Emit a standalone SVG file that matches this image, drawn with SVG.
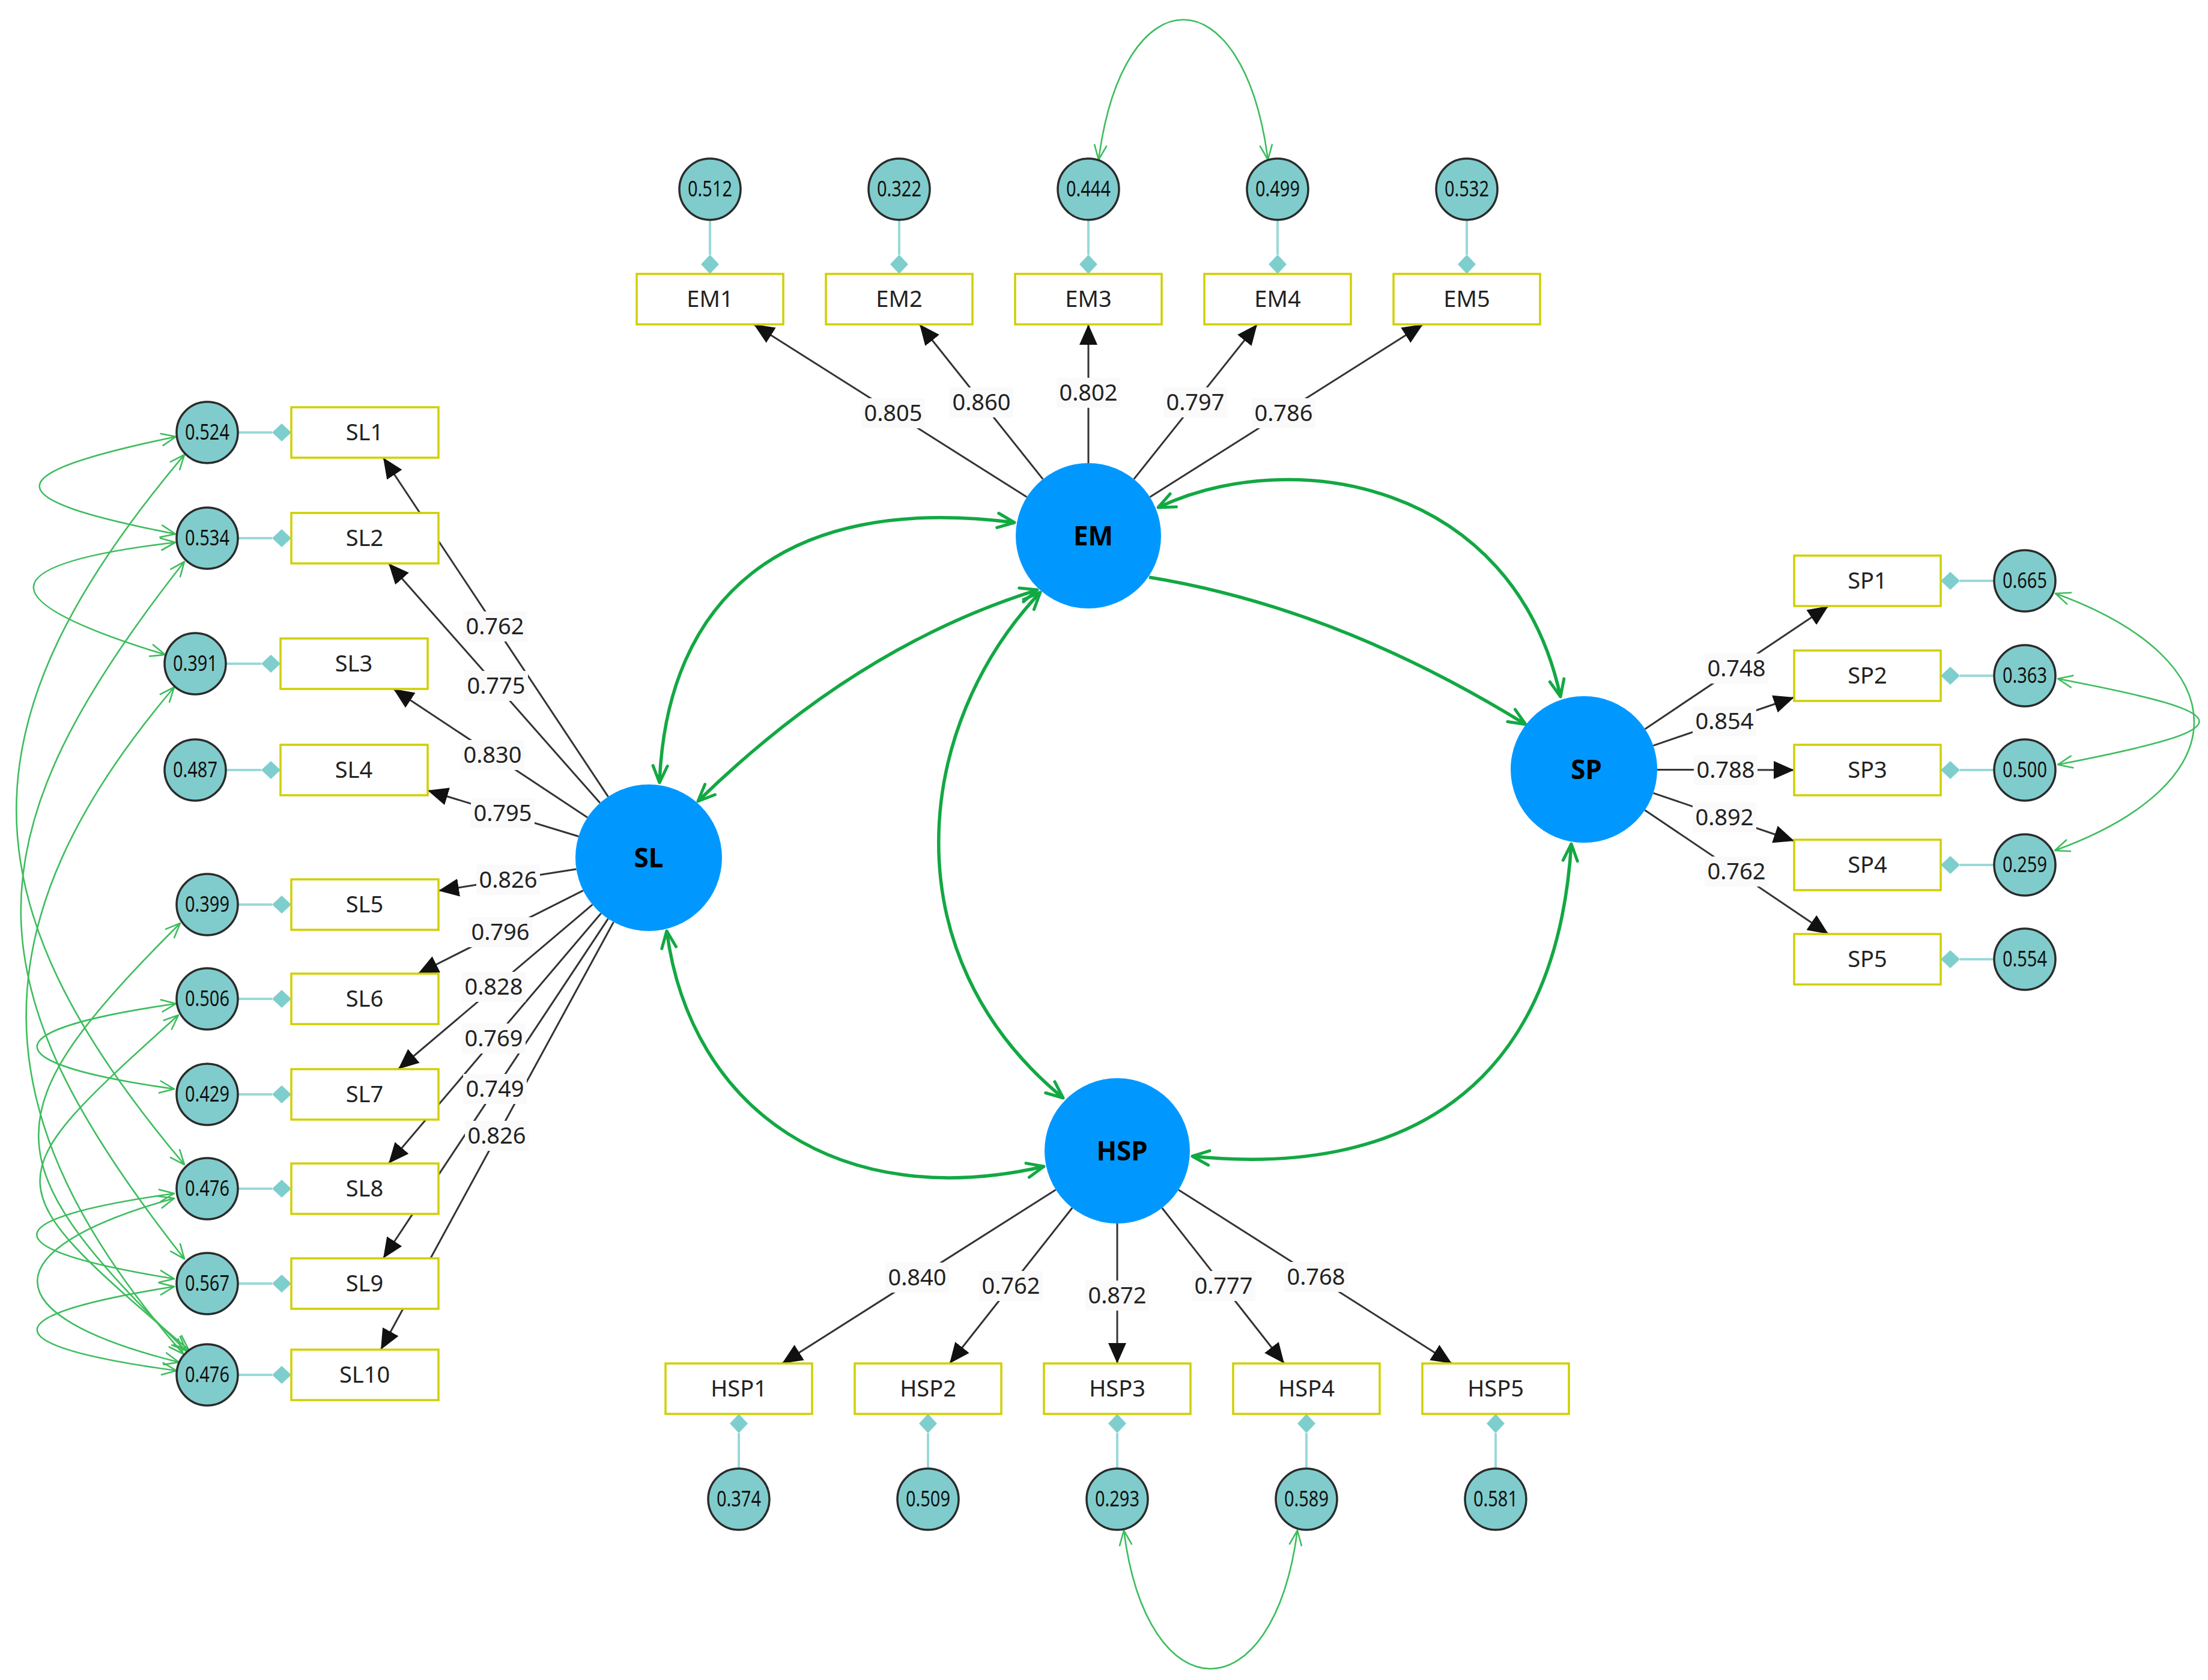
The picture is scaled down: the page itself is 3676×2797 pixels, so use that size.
<svg xmlns="http://www.w3.org/2000/svg" width="3676" height="2797" viewBox="0 0 3676 2797">
<style>
.lat{fill:#0098ff}
.latt{font-family:"Noto Sans","Liberation Sans",sans-serif;font-weight:bold;font-size:44px;text-anchor:middle;fill:#000}
.box{fill:#fff;stroke:#cfcf00;stroke-width:3.5}
.boxt{font-family:"Noto Sans","Liberation Sans",sans-serif;font-size:38px;text-anchor:middle;fill:#222}
.err{fill:#80cccc;stroke:#2b2b2b;stroke-width:3.5}
.errt{font-family:"Noto Sans","Liberation Sans",sans-serif;font-size:36px;text-anchor:middle;fill:#111}
.tl{stroke:#99d9d9;stroke-width:4}
.dia{fill:#7fcece}
.ld line{stroke:#333;stroke-width:3;marker-end:url(#ah)}
.lbg{fill:#fafafa}
.lbt{font-family:"Noto Sans","Liberation Sans",sans-serif;font-size:38px;text-anchor:middle;fill:#222}
.cov{fill:none;stroke:#12a843;stroke-width:5.5}
.cov2{marker-start:url(#gv);marker-end:url(#gv)}
.ecov path{fill:none;stroke:#3dbd5d;stroke-width:2.6;marker-start:url(#tv);marker-end:url(#tv)}
</style>
<defs>
<marker id="ah" viewBox="0 0 34 30" refX="34" refY="15" markerWidth="34" markerHeight="30" markerUnits="userSpaceOnUse" orient="auto"><path d="M0,0 L34,15 L0,30 Z" fill="#111"/></marker>
<marker id="gv" viewBox="-3 -3 34 30" refX="28" refY="12" markerWidth="34" markerHeight="30" markerUnits="userSpaceOnUse" orient="auto-start-reverse"><path d="M0,0 L28,12 L0,24" fill="none" stroke="#12a843" stroke-width="5" stroke-linejoin="round" stroke-linecap="round"/></marker>
<marker id="tv" viewBox="-2 -2 28 24" refX="24" refY="10" markerWidth="28" markerHeight="24" markerUnits="userSpaceOnUse" orient="auto-start-reverse"><path d="M0,0 L24,10 L0,20" fill="none" stroke="#3dbd5d" stroke-width="2.6" stroke-linejoin="round" stroke-linecap="round"/></marker>
</defs>
<rect width="3676" height="2797" fill="#fff"/>

<g id="connectors">
<g id="structural-covariances">
<path class="cov cov2" d="M1098,1303 C1110,1000 1300,820 1689,870"/>
<path class="cov cov2" d="M1727,982 Q1426,1076 1162,1334"/>
<path class="cov cov2" d="M1732,986 C1520,1210 1480,1590 1770,1828"/>
<path class="cov cov2" d="M1928,845 C2150,740 2520,800 2598,1160"/>
<path class="cov" d="M1913,961 Q2226,1012 2540,1206" marker-end="url(#gv)"/>
<path class="cov cov2" d="M1110,1550 C1150,1850 1400,2020 1738,1942"/>
<path class="cov cov2" d="M2616,1405 C2590,1820 2330,1960 1985,1925"/>
</g>
<g id="error-covariances" class="ecov">
<path d="M1829,266 C1870,-45 2070,-45 2111,266"/>
<path d="M1871,2548 C1910,2855 2120,2855 2160,2548"/>
<path d="M3422,988 C3730,1100 3730,1304 3421,1416"/>
<path d="M3426,1130 C3740,1190 3740,1212 3426,1273"/>
<path d="M293,727 C-10,790 -10,830 292,889"/>
<path d="M292,903 C-20,940 -20,1000 275,1090"/>
<path d="M293,1671 C-15,1715 -15,1770 290,1813"/>
<path d="M290,1987 C-15,2030 -15,2080 290,2129"/>
<path d="M290,1995 C-15,2080 -15,2190 298,2268"/>
<path d="M290,2142 C-15,2190 -15,2240 294,2282"/>
<path d="M307,757 C-66,1200 -66,1497 307,1939"/>
<path d="M307,935 C-56,1396 -56,1635 307,2096"/>
<path d="M290,1144 C-41,1534 -41,1857 305,2254"/>
<path d="M300,1537 C-16,1853 -16,1931 310,2249"/>
<path d="M297,1690 C-13,1970 -13,1967 314,2247"/>
</g>
<g id="loadings" class="ld">
<line x1="1709.5" y1="827.6" x2="1255" y2="540"/>
<line x1="1736.2" y1="797.6" x2="1531" y2="540"/>
<line x1="1812" y1="771" x2="1812" y2="540"/>
<line x1="1887.8" y1="797.6" x2="2093" y2="540"/>
<line x1="1914.5" y1="827.6" x2="2369" y2="540"/>
<line x1="1012.5" y1="1326.4" x2="638" y2="762"/>
<line x1="998.9" y1="1336.8" x2="647" y2="938"/>
<line x1="978" y1="1361" x2="655" y2="1147"/>
<line x1="963.3" y1="1392.5" x2="712" y2="1316"/>
<line x1="959.5" y1="1447" x2="730" y2="1483"/>
<line x1="970.9" y1="1482.6" x2="696" y2="1621"/>
<line x1="986.3" y1="1506.2" x2="663" y2="1780"/>
<line x1="1000.6" y1="1520.6" x2="647" y2="1937"/>
<line x1="1012.4" y1="1529.6" x2="638" y2="2095"/>
<line x1="1021.5" y1="1535.1" x2="634" y2="2247"/>
<line x1="2738.8" y1="1213.7" x2="3044" y2="1009"/>
<line x1="2752.4" y1="1241.3" x2="2987" y2="1161"/>
<line x1="2759" y1="1281.5" x2="2987" y2="1282"/>
<line x1="2752.5" y1="1320.4" x2="2987" y2="1400"/>
<line x1="2738.4" y1="1348.8" x2="3044" y2="1555"/>
<line x1="1757.8" y1="1980.8" x2="1302" y2="2270"/>
<line x1="1785.1" y1="2011" x2="1581" y2="2270"/>
<line x1="1860" y1="2037" x2="1860" y2="2270"/>
<line x1="1934.6" y1="2011" x2="2138" y2="2270"/>
<line x1="1962.1" y1="1980.9" x2="2417" y2="2270"/>
</g>
<g id="loading-labels">
<rect class="lbg" x="1434" y="663" width="106" height="50"/><text class="lbt" x="1487" y="701">0.805</text>
<rect class="lbg" x="1581" y="645" width="106" height="50"/><text class="lbt" x="1634" y="683">0.860</text>
<rect class="lbg" x="1759" y="629" width="106" height="50"/><text class="lbt" x="1812" y="667">0.802</text>
<rect class="lbg" x="1937" y="645" width="106" height="50"/><text class="lbt" x="1990" y="683">0.797</text>
<rect class="lbg" x="2084" y="663" width="106" height="50"/><text class="lbt" x="2137" y="701">0.786</text>
<rect class="lbg" x="771" y="1018" width="106" height="50"/><text class="lbt" x="824" y="1056">0.762</text>
<rect class="lbg" x="773" y="1117" width="106" height="50"/><text class="lbt" x="826" y="1155">0.775</text>
<rect class="lbg" x="767" y="1232" width="106" height="50"/><text class="lbt" x="820" y="1270">0.830</text>
<rect class="lbg" x="784" y="1329" width="106" height="50"/><text class="lbt" x="837" y="1367">0.795</text>
<rect class="lbg" x="793" y="1440" width="106" height="50"/><text class="lbt" x="846" y="1478">0.826</text>
<rect class="lbg" x="780" y="1527" width="106" height="50"/><text class="lbt" x="833" y="1565">0.796</text>
<rect class="lbg" x="769" y="1618" width="106" height="50"/><text class="lbt" x="822" y="1656">0.828</text>
<rect class="lbg" x="769" y="1704" width="106" height="50"/><text class="lbt" x="822" y="1742">0.769</text>
<rect class="lbg" x="771" y="1788" width="106" height="50"/><text class="lbt" x="824" y="1826">0.749</text>
<rect class="lbg" x="774" y="1866" width="106" height="50"/><text class="lbt" x="827" y="1904">0.826</text>
<rect class="lbg" x="2838" y="1088" width="106" height="50"/><text class="lbt" x="2891" y="1126">0.748</text>
<rect class="lbg" x="2818" y="1176" width="106" height="50"/><text class="lbt" x="2871" y="1214">0.854</text>
<rect class="lbg" x="2820" y="1257" width="106" height="50"/><text class="lbt" x="2873" y="1295">0.788</text>
<rect class="lbg" x="2818" y="1336" width="106" height="50"/><text class="lbt" x="2871" y="1374">0.892</text>
<rect class="lbg" x="2838" y="1426" width="106" height="50"/><text class="lbt" x="2891" y="1464">0.762</text>
<rect class="lbg" x="1474" y="2102" width="106" height="50"/><text class="lbt" x="1527" y="2140">0.840</text>
<rect class="lbg" x="1630" y="2116" width="106" height="50"/><text class="lbt" x="1683" y="2154">0.762</text>
<rect class="lbg" x="1807" y="2132" width="106" height="50"/><text class="lbt" x="1860" y="2170">0.872</text>
<rect class="lbg" x="1984" y="2116" width="106" height="50"/><text class="lbt" x="2037" y="2154">0.777</text>
<rect class="lbg" x="2138" y="2101" width="106" height="50"/><text class="lbt" x="2191" y="2139">0.768</text>
</g>
</g>

<g id="EM"><circle class="lat" cx="1812" cy="892" r="121"/><text class="latt" x="1820" y="908">EM</text></g>
<g id="SL"><circle class="lat" cx="1080" cy="1428" r="122"/><text class="latt" x="1080" y="1444">SL</text></g>
<g id="SP"><circle class="lat" cx="2637" cy="1281" r="122"/><text class="latt" x="2641" y="1297">SP</text></g>
<g id="HSP"><circle class="lat" cx="1860" cy="1916" r="121"/><text class="latt" x="1868" y="1932">HSP</text></g>

<g id="EM1"><line class="tl" x1="1182" y1="366" x2="1182" y2="424"/><polygon class="dia" points="1182,424 1197,440 1182,456 1167,440"/><rect class="box" x="1060" y="456" width="244" height="84"/><text class="boxt" x="1182" y="511">EM1</text><circle class="err" cx="1182" cy="315" r="51"/><text class="errt" x="1182" y="327" textLength="74" lengthAdjust="spacingAndGlyphs">0.512</text></g>
<g id="EM2"><line class="tl" x1="1497" y1="366" x2="1497" y2="424"/><polygon class="dia" points="1497,424 1512,440 1497,456 1482,440"/><rect class="box" x="1375" y="456" width="244" height="84"/><text class="boxt" x="1497" y="511">EM2</text><circle class="err" cx="1497" cy="315" r="51"/><text class="errt" x="1497" y="327" textLength="74" lengthAdjust="spacingAndGlyphs">0.322</text></g>
<g id="EM3"><line class="tl" x1="1812" y1="366" x2="1812" y2="424"/><polygon class="dia" points="1812,424 1827,440 1812,456 1797,440"/><rect class="box" x="1690" y="456" width="244" height="84"/><text class="boxt" x="1812" y="511">EM3</text><circle class="err" cx="1812" cy="315" r="51"/><text class="errt" x="1812" y="327" textLength="74" lengthAdjust="spacingAndGlyphs">0.444</text></g>
<g id="EM4"><line class="tl" x1="2127" y1="366" x2="2127" y2="424"/><polygon class="dia" points="2127,424 2142,440 2127,456 2112,440"/><rect class="box" x="2005" y="456" width="244" height="84"/><text class="boxt" x="2127" y="511">EM4</text><circle class="err" cx="2127" cy="315" r="51"/><text class="errt" x="2127" y="327" textLength="74" lengthAdjust="spacingAndGlyphs">0.499</text></g>
<g id="EM5"><line class="tl" x1="2442" y1="366" x2="2442" y2="424"/><polygon class="dia" points="2442,424 2457,440 2442,456 2427,440"/><rect class="box" x="2320" y="456" width="244" height="84"/><text class="boxt" x="2442" y="511">EM5</text><circle class="err" cx="2442" cy="315" r="51"/><text class="errt" x="2442" y="327" textLength="74" lengthAdjust="spacingAndGlyphs">0.532</text></g>

<g id="HSP1"><line class="tl" x1="1230" y1="2386" x2="1230" y2="2445"/><polygon class="dia" points="1230,2354 1245,2370 1230,2386 1215,2370"/><rect class="box" x="1108" y="2270" width="244" height="84"/><text class="boxt" x="1230" y="2325">HSP1</text><circle class="err" cx="1230" cy="2496" r="51"/><text class="errt" x="1230" y="2508" textLength="74" lengthAdjust="spacingAndGlyphs">0.374</text></g>
<g id="HSP2"><line class="tl" x1="1545" y1="2386" x2="1545" y2="2445"/><polygon class="dia" points="1545,2354 1560,2370 1545,2386 1530,2370"/><rect class="box" x="1423" y="2270" width="244" height="84"/><text class="boxt" x="1545" y="2325">HSP2</text><circle class="err" cx="1545" cy="2496" r="51"/><text class="errt" x="1545" y="2508" textLength="74" lengthAdjust="spacingAndGlyphs">0.509</text></g>
<g id="HSP3"><line class="tl" x1="1860" y1="2386" x2="1860" y2="2445"/><polygon class="dia" points="1860,2354 1875,2370 1860,2386 1845,2370"/><rect class="box" x="1738" y="2270" width="244" height="84"/><text class="boxt" x="1860" y="2325">HSP3</text><circle class="err" cx="1860" cy="2496" r="51"/><text class="errt" x="1860" y="2508" textLength="74" lengthAdjust="spacingAndGlyphs">0.293</text></g>
<g id="HSP4"><line class="tl" x1="2175" y1="2386" x2="2175" y2="2445"/><polygon class="dia" points="2175,2354 2190,2370 2175,2386 2160,2370"/><rect class="box" x="2053" y="2270" width="244" height="84"/><text class="boxt" x="2175" y="2325">HSP4</text><circle class="err" cx="2175" cy="2496" r="51"/><text class="errt" x="2175" y="2508" textLength="74" lengthAdjust="spacingAndGlyphs">0.589</text></g>
<g id="HSP5"><line class="tl" x1="2490" y1="2386" x2="2490" y2="2445"/><polygon class="dia" points="2490,2354 2505,2370 2490,2386 2475,2370"/><rect class="box" x="2368" y="2270" width="244" height="84"/><text class="boxt" x="2490" y="2325">HSP5</text><circle class="err" cx="2490" cy="2496" r="51"/><text class="errt" x="2490" y="2508" textLength="74" lengthAdjust="spacingAndGlyphs">0.581</text></g>

<g id="SP1"><line class="tl" x1="3263" y1="967" x2="3320" y2="967"/><polygon class="dia" points="3231,967 3247,952 3263,967 3247,982"/><rect class="box" x="2987" y="925" width="244" height="84"/><text class="boxt" x="3109" y="980">SP1</text><circle class="err" cx="3371" cy="967" r="51"/><text class="errt" x="3371" y="979" textLength="74" lengthAdjust="spacingAndGlyphs">0.665</text></g>
<g id="SP2"><line class="tl" x1="3263" y1="1125" x2="3320" y2="1125"/><polygon class="dia" points="3231,1125 3247,1110 3263,1125 3247,1140"/><rect class="box" x="2987" y="1083" width="244" height="84"/><text class="boxt" x="3109" y="1138">SP2</text><circle class="err" cx="3371" cy="1125" r="51"/><text class="errt" x="3371" y="1137" textLength="74" lengthAdjust="spacingAndGlyphs">0.363</text></g>
<g id="SP3"><line class="tl" x1="3263" y1="1282" x2="3320" y2="1282"/><polygon class="dia" points="3231,1282 3247,1267 3263,1282 3247,1297"/><rect class="box" x="2987" y="1240" width="244" height="84"/><text class="boxt" x="3109" y="1295">SP3</text><circle class="err" cx="3371" cy="1282" r="51"/><text class="errt" x="3371" y="1294" textLength="74" lengthAdjust="spacingAndGlyphs">0.500</text></g>
<g id="SP4"><line class="tl" x1="3263" y1="1440" x2="3320" y2="1440"/><polygon class="dia" points="3231,1440 3247,1425 3263,1440 3247,1455"/><rect class="box" x="2987" y="1398" width="244" height="84"/><text class="boxt" x="3109" y="1453">SP4</text><circle class="err" cx="3371" cy="1440" r="51"/><text class="errt" x="3371" y="1452" textLength="74" lengthAdjust="spacingAndGlyphs">0.259</text></g>
<g id="SP5"><line class="tl" x1="3263" y1="1597" x2="3320" y2="1597"/><polygon class="dia" points="3231,1597 3247,1582 3263,1597 3247,1612"/><rect class="box" x="2987" y="1555" width="244" height="84"/><text class="boxt" x="3109" y="1610">SP5</text><circle class="err" cx="3371" cy="1597" r="51"/><text class="errt" x="3371" y="1609" textLength="74" lengthAdjust="spacingAndGlyphs">0.554</text></g>

<g id="SL1"><line class="tl" x1="396" y1="720" x2="453" y2="720"/><polygon class="dia" points="485,720 469,705 453,720 469,735"/><rect class="box" x="485" y="678" width="245" height="84"/><text class="boxt" x="607" y="733">SL1</text><circle class="err" cx="345" cy="720" r="51"/><text class="errt" x="345" y="732" textLength="74" lengthAdjust="spacingAndGlyphs">0.524</text></g>
<g id="SL2"><line class="tl" x1="396" y1="896" x2="453" y2="896"/><polygon class="dia" points="485,896 469,881 453,896 469,911"/><rect class="box" x="485" y="854" width="245" height="84"/><text class="boxt" x="607" y="909">SL2</text><circle class="err" cx="345" cy="896" r="51"/><text class="errt" x="345" y="908" textLength="74" lengthAdjust="spacingAndGlyphs">0.534</text></g>
<g id="SL3"><line class="tl" x1="376" y1="1105" x2="435" y2="1105"/><polygon class="dia" points="467,1105 451,1090 435,1105 451,1120"/><rect class="box" x="467" y="1063" width="245" height="84"/><text class="boxt" x="589" y="1118">SL3</text><circle class="err" cx="325" cy="1105" r="51"/><text class="errt" x="325" y="1117" textLength="74" lengthAdjust="spacingAndGlyphs">0.391</text></g>
<g id="SL4"><line class="tl" x1="376" y1="1282" x2="435" y2="1282"/><polygon class="dia" points="467,1282 451,1267 435,1282 451,1297"/><rect class="box" x="467" y="1240" width="245" height="84"/><text class="boxt" x="589" y="1295">SL4</text><circle class="err" cx="325" cy="1282" r="51"/><text class="errt" x="325" y="1294" textLength="74" lengthAdjust="spacingAndGlyphs">0.487</text></g>
<g id="SL5"><line class="tl" x1="396" y1="1506" x2="453" y2="1506"/><polygon class="dia" points="485,1506 469,1491 453,1506 469,1521"/><rect class="box" x="485" y="1464" width="245" height="84"/><text class="boxt" x="607" y="1519">SL5</text><circle class="err" cx="345" cy="1506" r="51"/><text class="errt" x="345" y="1518" textLength="74" lengthAdjust="spacingAndGlyphs">0.399</text></g>
<g id="SL6"><line class="tl" x1="396" y1="1663" x2="453" y2="1663"/><polygon class="dia" points="485,1663 469,1648 453,1663 469,1678"/><rect class="box" x="485" y="1621" width="245" height="84"/><text class="boxt" x="607" y="1676">SL6</text><circle class="err" cx="345" cy="1663" r="51"/><text class="errt" x="345" y="1675" textLength="74" lengthAdjust="spacingAndGlyphs">0.506</text></g>
<g id="SL7"><line class="tl" x1="396" y1="1822" x2="453" y2="1822"/><polygon class="dia" points="485,1822 469,1807 453,1822 469,1837"/><rect class="box" x="485" y="1780" width="245" height="84"/><text class="boxt" x="607" y="1835">SL7</text><circle class="err" cx="345" cy="1822" r="51"/><text class="errt" x="345" y="1834" textLength="74" lengthAdjust="spacingAndGlyphs">0.429</text></g>
<g id="SL8"><line class="tl" x1="396" y1="1979" x2="453" y2="1979"/><polygon class="dia" points="485,1979 469,1964 453,1979 469,1994"/><rect class="box" x="485" y="1937" width="245" height="84"/><text class="boxt" x="607" y="1992">SL8</text><circle class="err" cx="345" cy="1979" r="51"/><text class="errt" x="345" y="1991" textLength="74" lengthAdjust="spacingAndGlyphs">0.476</text></g>
<g id="SL9"><line class="tl" x1="396" y1="2137" x2="453" y2="2137"/><polygon class="dia" points="485,2137 469,2122 453,2137 469,2152"/><rect class="box" x="485" y="2095" width="245" height="84"/><text class="boxt" x="607" y="2150">SL9</text><circle class="err" cx="345" cy="2137" r="51"/><text class="errt" x="345" y="2149" textLength="74" lengthAdjust="spacingAndGlyphs">0.567</text></g>
<g id="SL10"><line class="tl" x1="396" y1="2289" x2="453" y2="2289"/><polygon class="dia" points="485,2289 469,2274 453,2289 469,2304"/><rect class="box" x="485" y="2247" width="245" height="84"/><text class="boxt" x="607" y="2302">SL10</text><circle class="err" cx="345" cy="2289" r="51"/><text class="errt" x="345" y="2301" textLength="74" lengthAdjust="spacingAndGlyphs">0.476</text></g>
</svg>
